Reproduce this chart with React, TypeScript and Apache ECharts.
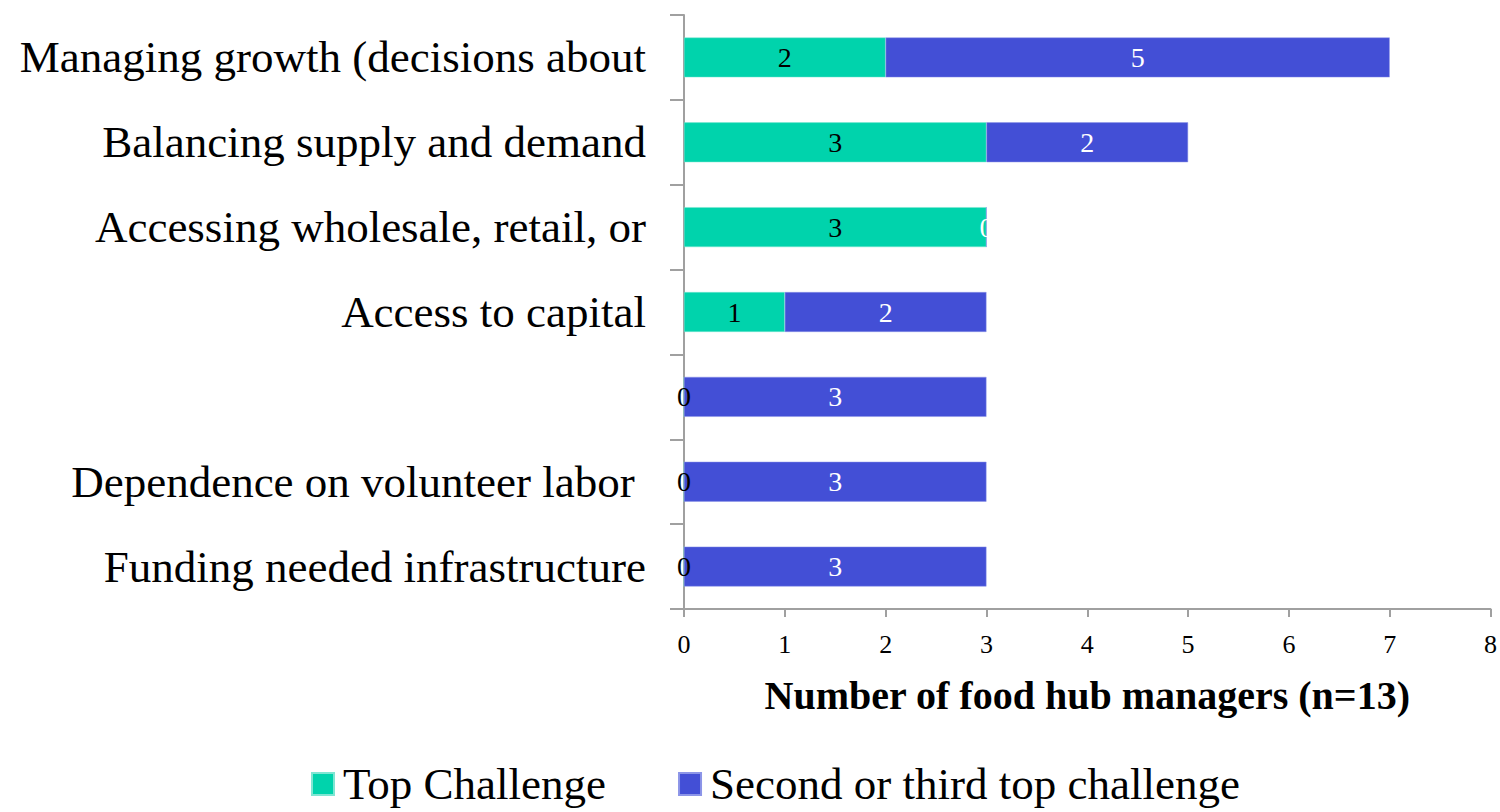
import React, { useEffect, useRef } from "react";
import * as echarts from "echarts";

const categories = [
  "Managing growth (decisions about",
  "Balancing supply and demand",
  "Accessing wholesale, retail, or",
  "Access to capital",
  "",
  "Dependence on volunteer labor ",
  "Funding needed infrastructure",
];
const topChallenge = [2, 3, 3, 1, 0, 0, 0];
const secondOrThird = [5, 2, 0, 2, 3, 3, 3];
const xTicks = [0, 1, 2, 3, 4, 5, 6, 7, 8];
const seriesNames = ["Top Challenge", "Second or third top challenge"];

const FONT = "'Liberation Serif', 'DejaVu Serif', serif";

export default function App() {
  const ref = useRef<HTMLDivElement>(null);
  useEffect(() => {
    if (!ref.current) return;
    const chart = echarts.init(ref.current, null, { renderer: "svg" });
    chart.setOption({
      animation: false,
      textStyle: { fontFamily: FONT },
      grid: { left: 684, right: 8, top: 15, bottom: 203, containLabel: false },
      legend: {
        top: 756,
        left: 306,
        itemWidth: 22,
        itemHeight: 22,
        itemGap: 72,
        icon: "rect",
        textStyle: { fontFamily: FONT, fontSize: 45, lineHeight: 46, color: "#000", padding: [0, 0, 0, 4] },
        data: seriesNames,
      },
      xAxis: {
        type: "value",
        min: xTicks[0],
        max: xTicks[xTicks.length - 1],
        interval: 1,
        name: "Number of food hub managers (n=13)",
        nameLocation: "middle",
        nameGap: 66,
        nameTextStyle: { fontFamily: FONT, fontSize: 40, fontWeight: "bold", color: "#000" },
        axisLine: { show: true, lineStyle: { color: "#A0A0A0", width: 2 } },
        axisTick: { show: true, length: 8, lineStyle: { color: "#A0A0A0", width: 2 } },
        axisLabel: { fontSize: 26, color: "#000", margin: 22, fontFamily: FONT },
        splitLine: { show: false },
      },
      yAxis: {
        type: "category",
        inverse: true,
        data: categories,
        axisLine: { show: true, lineStyle: { color: "#A0A0A0", width: 2 } },
        axisTick: { show: true, length: 14, lineStyle: { color: "#A0A0A0", width: 2 } },
        axisLabel: { fontSize: 45, color: "#000", margin: 38, fontFamily: FONT },
      },
      series: [
        {
          name: seriesNames[0],
          type: "bar",
          stack: "total",
          barWidth: "47%",
          data: topChallenge,
          itemStyle: { color: "#00D3AC", borderColor: "#7FE6D3", borderWidth: 0.5 },
          label: { show: true, position: "inside", color: "#000", fontSize: 28, fontFamily: FONT },
        },
        {
          name: seriesNames[1],
          type: "bar",
          stack: "total",
          barWidth: "47%",
          data: secondOrThird,
          itemStyle: { color: "#434FD6", borderColor: "#8C95E8", borderWidth: 0.5 },
          label: { show: true, position: "inside", color: "#fff", fontSize: 28, fontFamily: FONT },
        },
      ],
    });
    return () => chart.dispose();
  }, []);
  return <div ref={ref} style={{ width: 1500, height: 812, position: "absolute", left: 0, top: 0 }} />;
}
